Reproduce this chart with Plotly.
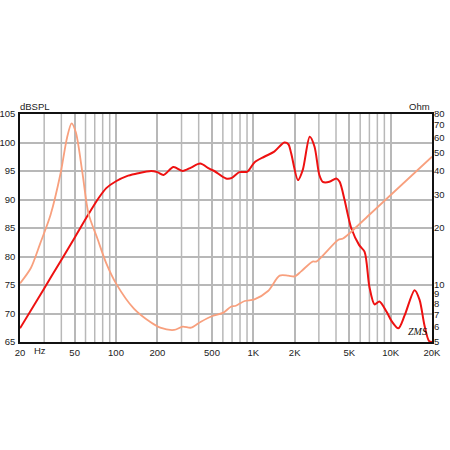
import plotly.graph_objects as go
import numpy as np

# SPL response (dB)
spl_freq = [20, 30, 40, 50, 63, 75, 85, 100, 120, 140, 180, 200, 222, 262, 306, 352, 410, 478, 520,
            632, 698, 792, 906, 1018, 1202, 1420, 1680, 1800, 1886, 2114, 2292, 2574, 2788, 3026,
            3204, 3580, 4020, 4252, 4620, 4880, 5160, 5900, 6460, 7000, 7630, 8280, 9340, 10140,
            11380, 12660, 14940, 16240, 17600, 19000, 20000]
spl_db = [67.4, 74.4, 79.4, 83.3, 87.4, 90.3, 92.0, 93.2, 94.1, 94.5, 95.0, 94.8, 94.3, 95.7, 95.0,
          95.6, 96.3, 95.4, 95.0, 93.7, 93.8, 94.8, 94.9, 96.5, 97.5, 98.4, 100.0, 99.7, 98.1, 93.4,
          95.2, 101.0, 99.3, 94.3, 93.1, 93.1, 93.7, 93.1, 89.9, 87.3, 85.0, 82.0, 80.8, 74.7, 71.6,
          72.1, 70.3, 68.7, 67.4, 69.7, 74.1, 72.4, 68.0, 65.2, 65.0]

# Impedance (Ohm)
imp_freq = [20, 24, 28, 33.4, 39.5, 44, 47.5, 51, 56.8, 63, 73, 85, 100, 135, 179, 210, 265, 306,
            352, 415, 504, 606, 687, 746, 865, 1018, 1280, 1554, 1790, 2000, 2230, 2700, 2875,
            4140, 4500, 7000, 20000]
imp_ohm = [10.2, 12.3, 16.5, 23.5, 38.9, 60, 71.4, 64, 39.7, 23.9, 17.7, 13.0, 10.2, 7.5, 6.35,
           5.95, 5.79, 6.03, 5.95, 6.4, 6.86, 7.15, 7.68, 7.77, 8.23, 8.4, 9.3, 11.2, 11.2, 11.1,
           11.8, 13.3, 13.3, 17.3, 17.6, 23.5, 47.6]

x_tickvals = [20, 50, 100, 200, 500, 1000, 2000, 5000, 10000, 20000]
x_ticktext = ["20", "50", "100", "200", "500", "1K", "2K", "5K", "10K", "20K"]
x_grid = [30, 40, 60, 70, 80, 90, 300, 400, 600, 700, 800, 900, 3000, 4000, 6000, 7000, 8000, 9000]
y_ticks = [65, 70, 75, 80, 85, 90, 95, 100, 105]
ohm_ticks = [5, 6, 7, 8, 9, 10, 20, 30, 40, 50, 60, 70, 80]

font = "Liberation Sans, Arial, sans-serif"
gridc = "#b8b8b8"
fs = 9.5

fig = go.Figure()

# minor vertical grid lines
for f in x_grid:
    fig.add_shape(type="line", xref="x", yref="paper", x0=f, x1=f, y0=0, y1=1,
                  line=dict(color=gridc, width=1.5), layer="below")

fig.add_trace(go.Scatter(x=imp_freq, y=imp_ohm, yaxis="y2", mode="lines",
                         line=dict(color="#f8a07e", width=1.8, shape="spline", smoothing=0.8),
                         hoverinfo="skip", showlegend=False))
fig.add_trace(go.Scatter(x=spl_freq, y=spl_db, mode="lines",
                         line=dict(color="#ee1111", width=2, shape="spline", smoothing=0.8),
                         hoverinfo="skip", showlegend=False))

fig.update_layout(
    width=450, height=450,
    margin=dict(l=20, r=18, t=114, b=108),
    paper_bgcolor="white", plot_bgcolor="white",
    font=dict(family=font, size=fs, color="#222"),
    xaxis=dict(type="log", range=[np.log10(20), np.log10(20000)], automargin=False,
               tickvals=x_tickvals, ticktext=x_ticktext, showgrid=True,
               gridcolor=gridc, gridwidth=1.5, showline=True, mirror=True,
               linecolor="#111", linewidth=1.5, ticks="", zeroline=False,
               tickfont=dict(size=fs), ticklabelstandoff=1),
    yaxis=dict(range=[65, 105], tickvals=y_ticks, showgrid=True, gridcolor=gridc,
               gridwidth=1.5, showline=True, mirror=True, linecolor="#111", linewidth=1.5,
               ticks="", zeroline=False, tickfont=dict(size=fs), ticklabelstandoff=1,
               automargin=False),
    yaxis2=dict(type="log", range=[np.log10(5), np.log10(80)], overlaying="y", side="right",
                tickvals=ohm_ticks, ticktext=[str(v) for v in ohm_ticks], showgrid=False,
                ticks="", zeroline=False, showline=False, tickfont=dict(size=fs),
                ticklabelstandoff=1, automargin=False),
    annotations=[
        dict(text="dBSPL", xref="paper", yref="paper", x=-0.005, y=1.0, yshift=0,
             xanchor="left", yanchor="bottom", showarrow=False, font=dict(size=fs)),
        dict(text="Ohm", xref="paper", yref="paper", x=1.0, y=1.0, yshift=0,
             xanchor="right", yanchor="bottom", showarrow=False, font=dict(size=fs)),
        dict(text="Hz", xref="paper", yref="paper", x=0.03, y=0, yshift=-1,
             xanchor="left", yanchor="top", showarrow=False, font=dict(size=fs)),
        dict(text="<i>ZMS</i>", xref="paper", yref="paper", x=0.965, y=0.045,
             xanchor="center", yanchor="middle", showarrow=False,
             font=dict(size=10, family="Liberation Serif, serif", color="#111")),
    ],
)

fig.write_html("out.html", config={"displayModeBar": False},
               post_script="document.body.style.margin='0';")
